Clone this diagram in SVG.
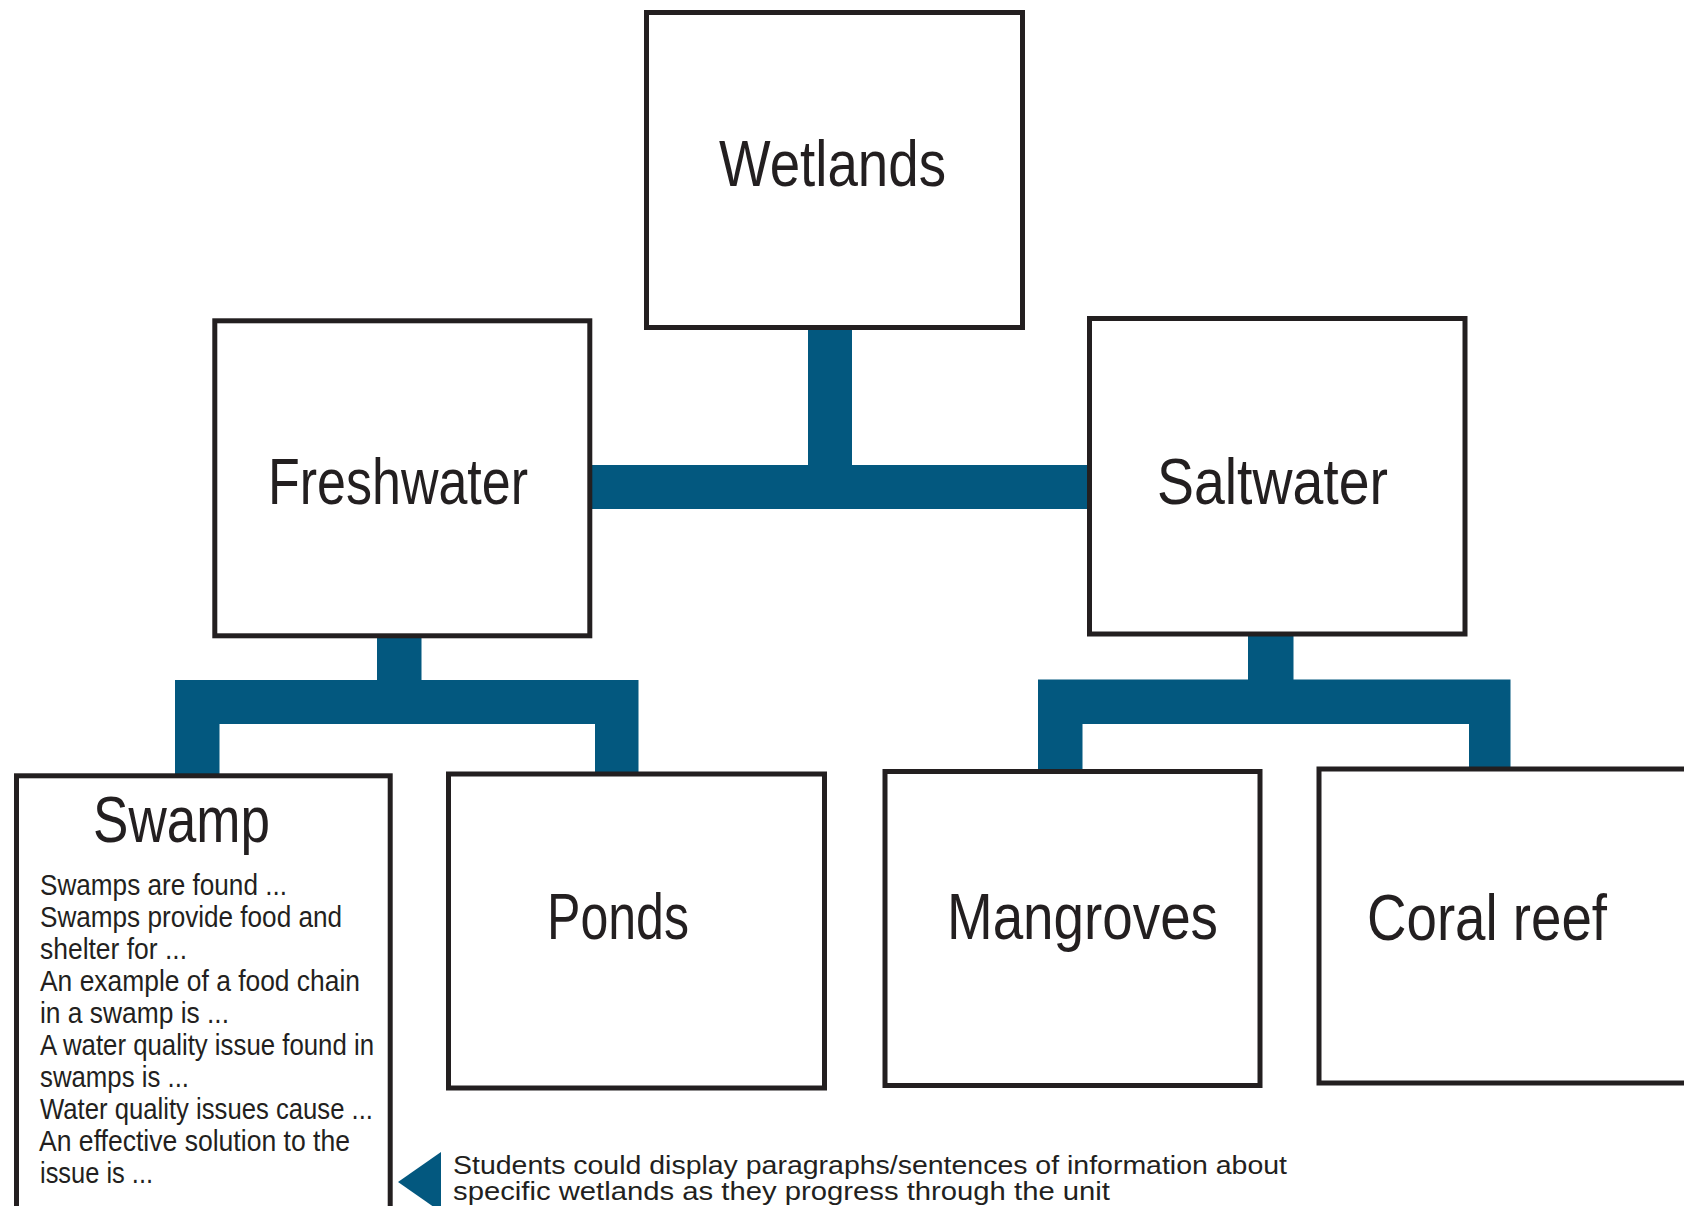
<svg xmlns="http://www.w3.org/2000/svg" width="1684" height="1206" viewBox="0 0 1684 1206">
<style>
.box{fill:#ffffff;stroke:#231f20;stroke-width:5}
.conn{fill:#03587f}
.title{font-family:"Liberation Sans",Arial,sans-serif;font-size:64px;fill:#231f20}
.body{font-family:"Liberation Sans",Arial,sans-serif;font-size:30px;fill:#231f20}
.note{font-family:"Liberation Sans",Arial,sans-serif;font-size:26.5px;fill:#231f20}
</style>
<rect x="0" y="0" width="1684" height="1206" fill="#ffffff"/>
<g id="connectors">
  <path class="conn" d="M808,320 H852 V465 H1090 V509 H588 V465 H808 Z"/>
  <path class="conn" d="M377,630 H421.5 V680 H638.5 V775 H595 V724 H219.5 V777 H175 V680 H377 Z"/>
  <path class="conn" d="M1248,628 H1293.5 V679.5 H1510.5 V772 H1469 V724 H1082.5 V775 H1038 V679.5 H1248 Z"/>
  <polygon class="conn" points="398,1182 441,1152 441,1212"/>
</g>
<g id="wetlands">
  <rect class="box" x="646.5" y="12.5" width="376" height="315"/>
  <text class="title" x="719" y="186" textLength="227" lengthAdjust="spacingAndGlyphs">Wetlands</text>
</g>
<g id="freshwater">
  <rect class="box" x="214.8" y="320.8" width="375" height="315"/>
  <text class="title" x="268" y="504" textLength="260" lengthAdjust="spacingAndGlyphs">Freshwater</text>
</g>
<g id="saltwater">
  <rect class="box" x="1089.5" y="318.5" width="375.5" height="315.5"/>
  <text class="title" x="1157" y="504" textLength="231" lengthAdjust="spacingAndGlyphs">Saltwater</text>
</g>
<g id="swamp">
  <rect class="box" x="16.5" y="775.8" width="373.7" height="470"/>
  <text class="title" x="93" y="841.7" textLength="177" lengthAdjust="spacingAndGlyphs">Swamp</text>
  <text class="body" x="40" y="895" textLength="247" lengthAdjust="spacingAndGlyphs">Swamps are found ...</text>
  <text class="body" x="40" y="927" textLength="302" lengthAdjust="spacingAndGlyphs">Swamps provide food and</text>
  <text class="body" x="40" y="959" textLength="147" lengthAdjust="spacingAndGlyphs">shelter for ...</text>
  <text class="body" x="40" y="991" textLength="320" lengthAdjust="spacingAndGlyphs">An example of a food chain</text>
  <text class="body" x="40" y="1023" textLength="189" lengthAdjust="spacingAndGlyphs">in a swamp is ...</text>
  <text class="body" x="40" y="1055" textLength="334" lengthAdjust="spacingAndGlyphs">A water quality issue found in</text>
  <text class="body" x="40" y="1087" textLength="149" lengthAdjust="spacingAndGlyphs">swamps is ...</text>
  <text class="body" x="40" y="1119" textLength="333" lengthAdjust="spacingAndGlyphs">Water quality issues cause ...</text>
  <text class="body" x="39" y="1151" textLength="311" lengthAdjust="spacingAndGlyphs">An effective solution to the</text>
  <text class="body" x="40" y="1183" textLength="113" lengthAdjust="spacingAndGlyphs">issue is ...</text>
</g>
<g id="ponds">
  <rect class="box" x="448.5" y="774" width="376" height="314"/>
  <text class="title" x="547" y="939" textLength="142" lengthAdjust="spacingAndGlyphs">Ponds</text>
</g>
<g id="mangroves">
  <rect class="box" x="885" y="771.5" width="375" height="314"/>
  <text class="title" x="947" y="939" textLength="271" lengthAdjust="spacingAndGlyphs">Mangroves</text>
</g>
<g id="coral-reef">
  <rect class="box" x="1319" y="769" width="420" height="314"/>
  <text class="title" x="1367" y="940" textLength="240" lengthAdjust="spacingAndGlyphs">Coral reef</text>
</g>
<g id="note">
  <text class="note" x="453" y="1174" textLength="834" lengthAdjust="spacingAndGlyphs">Students could display paragraphs/sentences of information about</text>
  <text class="note" x="453" y="1200" textLength="657" lengthAdjust="spacingAndGlyphs">specific wetlands as they progress through the unit</text>
</g>
</svg>
